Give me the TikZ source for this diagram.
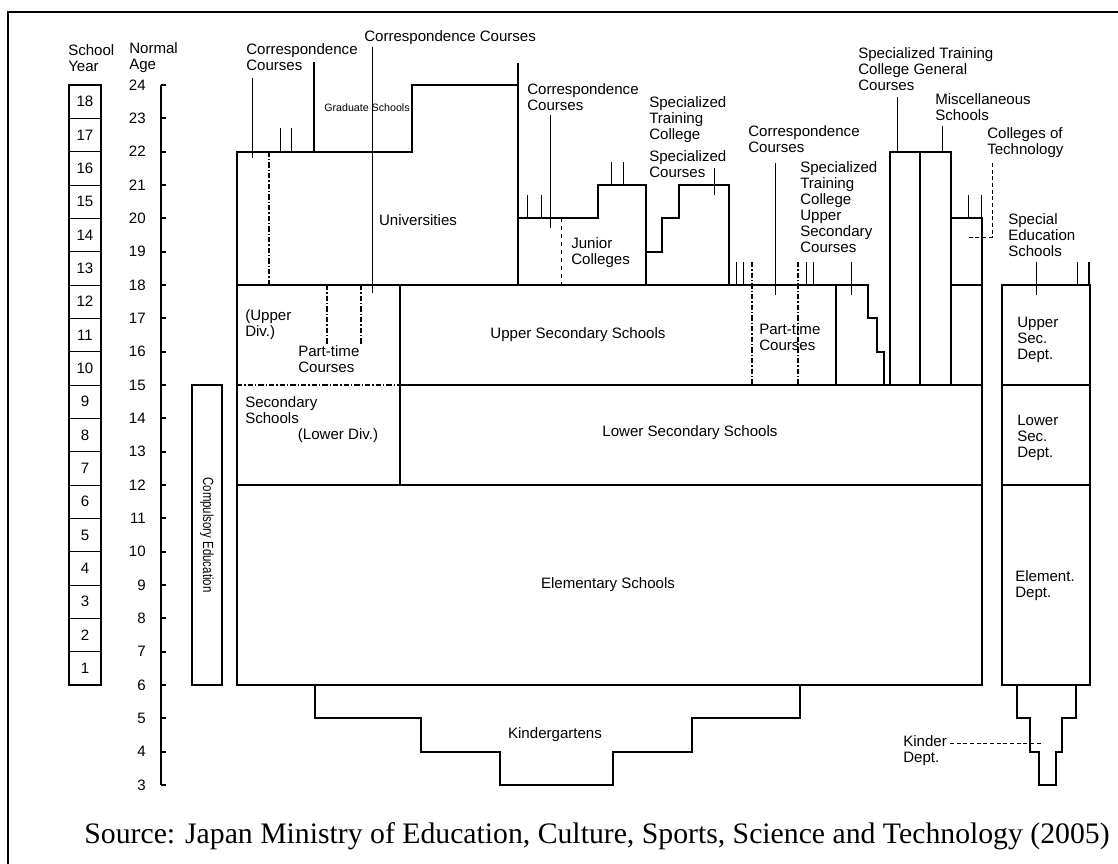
\documentclass[tikz,border=0pt]{standalone}
\usepackage{fontspec}
\setmainfont{Liberation Sans}
\newfontfamily\srcfont{Liberation Serif}

\begin{document}
\begin{tikzpicture}[x=0.75pt, y=25pt,
    wall/.style={line width=1.6pt, line join=miter},
    thinline/.style={line width=0.6pt},
    dashdot/.style={line width=1.6pt, dash pattern=on 4pt off 1.5pt on 1pt off 1.5pt},
    thindashdot/.style={line width=0.9pt, dash pattern=on 4pt off 1.5pt on 1pt off 1.5pt},
    lbl/.style={font=\fontsize{11.3}{12}\selectfont, inner sep=0pt, align=left},
    num/.style={font=\fontsize{11.3}{12}\selectfont, inner sep=0pt}]
    \useasboundingbox (0,0.63) rectangle (1118,26.55);

    % frame
    \draw[line width=1.2pt] (8,0.63) -- (8,26.19) -- (1118,26.19);

    % headers
    \node[lbl, anchor=west] (hyear) at (68,24.81) {School\\Year};
    \node[lbl, anchor=west] (hage) at (129,24.81) {Normal\\Age};

    % school years
    \foreach \k in {1,...,18} {
        \draw[thinline] (69,\k+5) rectangle (101,\k+6);
        \node[num] (yr\k) at (85,\k+5.5) {\k};
    }
    \draw[wall] (69,6) rectangle (101,24);

    % normal age
    \draw[wall] (161,3) -- (161,24);
    \foreach \a in {3,...,24} {
        \draw[wall] (161,\a) -- (166,\a);
        \node[num, anchor=east] (age\a) at (146,\a) {\a};
    }

    % compulsory education
    \draw[wall] (192,6) rectangle (222,15);
    \node[lbl, rotate=-90, xscale=0.78, font=\fontsize{11}{12}\selectfont] (comp) at (207,10.5) {Compulsory Education};

    % main block
    \draw[wall] (237,6) rectangle (982,12);
    \draw[wall] (237,12) -- (237,22) -- (412,22) -- (412,24) -- (518,24);
    \draw[wall] (518,24.67) -- (518,18);
    \draw[wall] (314,24.69) -- (314,22);
    \draw[wall] (237,18) -- (868,18);
    \draw[wall] (400,12) -- (400,18);
    \draw[wall] (400,15) -- (982,15);
    \draw[wall] (982,12) -- (982,20) -- (951,20) -- (951,15);
    \draw[wall] (951,18) -- (982,18);
    \draw[thindashdot] (237,15) -- (400,15);
    \draw[dashdot] (269,22) -- (269,18);
    \draw[thindashdot] (327,18) -- (327,16.2);
    \draw[thindashdot] (361,18) -- (361,16.2);

    % junior colleges and specialized courses
    \draw[wall] (518,20) -- (598,20) -- (598,21) -- (646,21) -- (646,18);
    \draw[thinline, dashed] (561,20) -- (561,18);
    \draw[wall] (646,19) -- (662,19) -- (662,20) -- (679,20) -- (679,21) -- (729,21) -- (729,18);

    % part-time and upper secondary courses
    \draw[dashdot] (752,18.69) -- (752,15);
    \draw[thindashdot] (798,18.69) -- (798,15);
    \draw[wall] (836,18) -- (836,15);
    \draw[wall] (836,18) -- (868,18) -- (868,17) -- (877,17) -- (877,16) -- (884,16) -- (884,15);

    % general courses, miscellaneous
    \draw[wall] (890,15) -- (890,22) -- (951,22) -- (951,15);
    \draw[wall] (920,15) -- (920,22);

    % special education
    \draw[wall] (1002,6) rectangle (1090,18);
    \draw[wall] (1002,12) -- (1090,12);
    \draw[wall] (1002,15) -- (1090,15);
    \draw[wall] (1089,18) -- (1089,18.69);
    \draw[wall] (1017,6) -- (1017,5) -- (1030,5) -- (1030,4) -- (1039,4) -- (1039,3)
        -- (1056,3) -- (1056,4) -- (1062,4) -- (1062,5) -- (1076,5) -- (1076,6);

    % kindergartens
    \draw[wall] (315,6) -- (315,5) -- (421,5) -- (421,4) -- (500,4) -- (500,3)
        -- (613,3) -- (613,4) -- (692,4) -- (692,5) -- (800,5) -- (800,6);

    % leaders and ticks
    \draw[thinline] (252,24.21) -- (252,21.81);
    \foreach \t in {280,291} \draw[thinline] (\t,22.71) -- (\t,22);
    \draw[thinline] (372,25.14) -- (372,17.76);
    \foreach \t in {527.6,541} \draw[thinline] (\t,20.7) -- (\t,20);
    \draw[thinline] (550,23.1) -- (550,19.71);
    \foreach \t in {611.5,623} \draw[thinline] (\t,21.69) -- (\t,21);
    \draw[thinline] (714,21.51) -- (714,20.7);
    \foreach \t in {736,743,806,813} \draw[thinline] (\t,18.69) -- (\t,18);
    \draw[thinline] (775,21.66) -- (775,17.7);
    \draw[thinline] (851,18.69) -- (851,17.7);
    \draw[thinline] (897,23.64) -- (897,22);
    \draw[thinline] (942,22.77) -- (942,22);
    \foreach \t in {968,981} \draw[thinline] (\t,20.7) -- (\t,20);
    \draw[thinline, densely dashed] (992,21.66) -- (992,19.44) -- (968,19.44);
    \draw[thinline] (1077,18.69) -- (1077,18);
    \draw[thinline] (1036,18.69) -- (1036,17.7);

    % labels
    \node[lbl, anchor=west] (corr1) at (246,24.84) {Correspondence\\Courses};
    \node[lbl, anchor=west] (corr2) at (364,25.41) {Correspondence Courses};
    \node[lbl, font=\fontsize{8}{9}\selectfont] (grad) at (367,23.31) {Graduate Schools};
    \node[lbl] (univ) at (418,19.95) {Universities};
    \node[lbl, anchor=west] (corr3) at (527,23.65) {Correspondence\\Courses};
    \node[lbl, anchor=west] (stc) at (649,22.95) {Specialized\\Training\\College};
    \node[lbl, anchor=west] (spc) at (649,21.62) {Specialized\\Courses};
    \node[lbl, anchor=west] (junior) at (571,18.96) {Junior\\Colleges};
    \node[lbl, anchor=west] (corr4) at (748,22.38) {Correspondence\\Courses};
    \node[lbl, anchor=west] (stcu) at (800,20.34) {Specialized\\Training\\College\\Upper\\Secondary\\Courses};
    \node[lbl, anchor=west] (stcg) at (858,24.49) {Specialized Training\\College General\\Courses};
    \node[lbl, anchor=west] (misc) at (935,23.34) {Miscellaneous\\Schools};
    \node[lbl, anchor=west] (ctech) at (987,22.28) {Colleges of\\Technology};
    \node[lbl, anchor=west] (sped) at (1008,19.5) {Special\\Education\\Schools};
    \node[lbl, anchor=west] (updiv) at (245,16.8) {(Upper\\Div.)};
    \node[lbl, anchor=west] (pt1) at (298,15.78) {Part-time\\Courses};
    \node[lbl] (usec) at (578,16.5) {Upper Secondary Schools};
    \node[lbl, anchor=west] (pt2) at (759,16.43) {Part-time\\Courses};
    \node[lbl, anchor=west] (secsch) at (245,14.25) {Secondary\\Schools};
    \node[lbl] (lowdiv) at (338,13.49) {(Lower Div.)};
    \node[lbl] (lsec) at (690,13.56) {Lower Secondary Schools};
    \node[lbl] (elem) at (608,9.0) {Elementary Schools};
    \node[lbl] (kg) at (555,4.5) {Kindergartens};
    \node[lbl, anchor=west] (usd) at (1017,16.35) {Upper\\Sec.\\Dept.};
    \node[lbl, anchor=west] (lsd) at (1017,13.41) {Lower\\Sec.\\Dept.};
    \node[lbl, anchor=west] (eld) at (1015,8.99) {Element.\\Dept.};
    \node[lbl, anchor=west] (kd) at (903,4.04) {Kinder\\Dept.};
    \coordinate (kdl) at (950,4.26);
    \draw[thinline, densely dashed] (kdl) -- (1043,4.26);

    % source
    \node[font=\srcfont\fontsize{22.3}{24}\selectfont, inner sep=0pt] (src) at (597,1.47)
        {Source: Japan Ministry of Education, Culture, Sports, Science and Technology (2005)};
\end{tikzpicture}
\end{document}
